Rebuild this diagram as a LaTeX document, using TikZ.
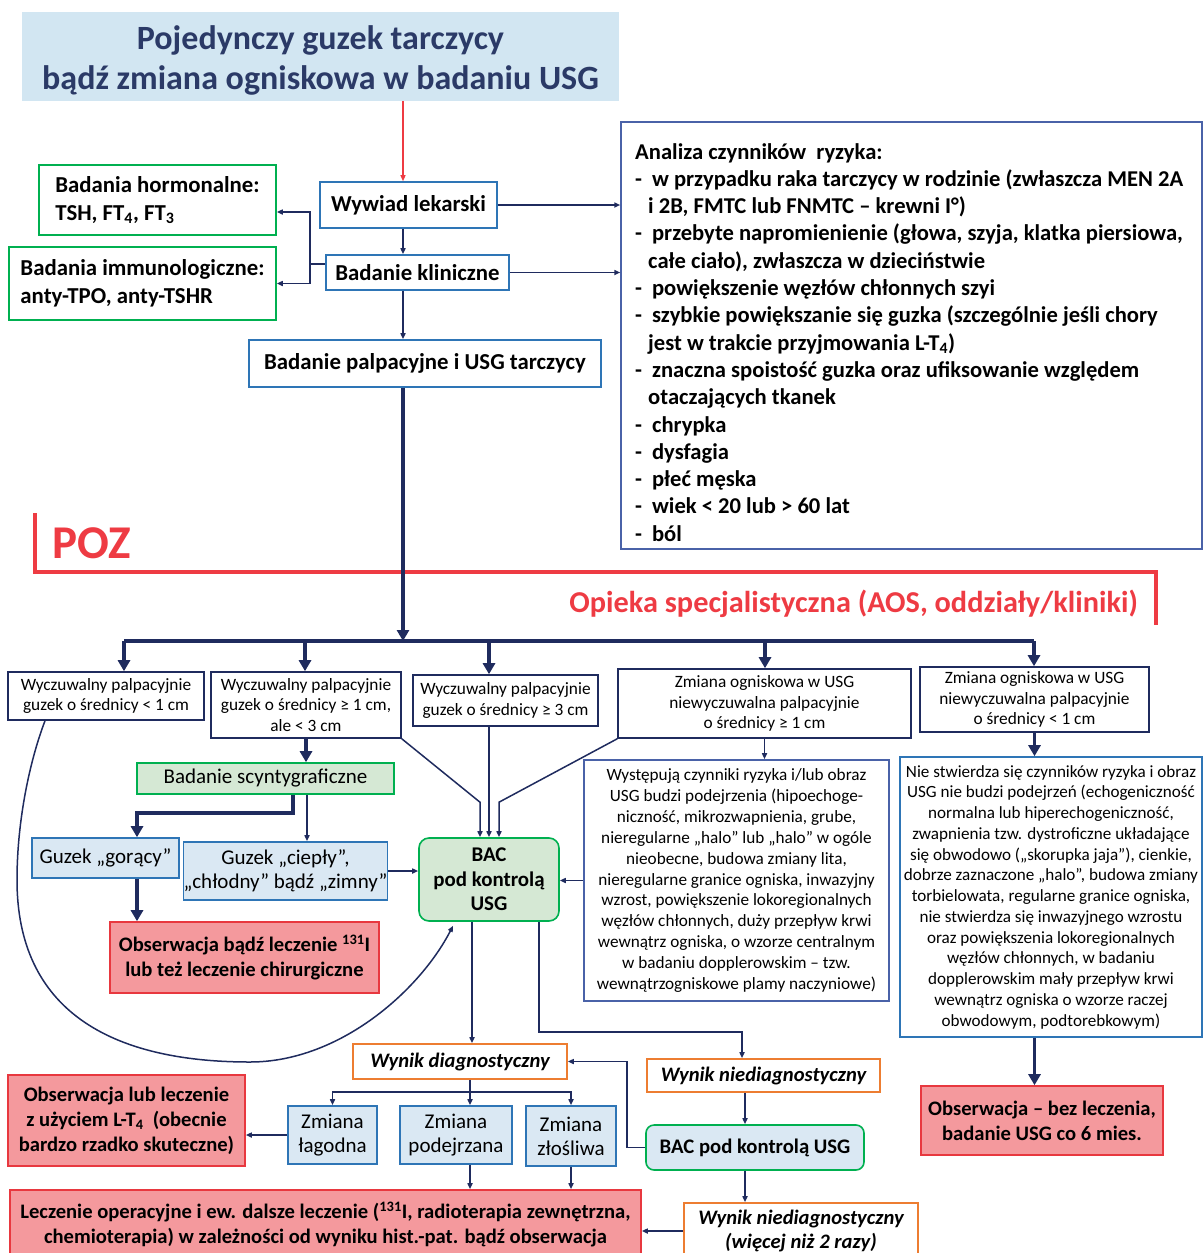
\documentclass[tikz,border=0pt]{standalone}
\usepackage{fontspec}
\setmainfont{Carlito}
\usetikzlibrary{arrows.meta}

\definecolor{navy}{HTML}{1F2B5E}
\definecolor{titlefill}{HTML}{D2E6F2}
\definecolor{titletext}{HTML}{2B3A67}
\definecolor{bluebd}{HTML}{2E75B6}
\definecolor{riskbd}{HTML}{4A62A8}
\definecolor{greenbd}{HTML}{00B050}
\definecolor{greenfill}{HTML}{D5E8D4}
\definecolor{bluefill}{HTML}{DAE8F3}
\definecolor{pinkfill}{HTML}{F4999D}
\definecolor{redbd}{HTML}{E8383F}
\definecolor{orangebd}{HTML}{ED7D31}
\definecolor{pozred}{HTML}{EE3B43}

\newcommand\fftitle{\fontsize{34}{40}\selectfont\bfseries}
\newcommand\ffbold{\fontsize{22.8}{28}\selectfont\bfseries}
\newcommand\ffrisk{\fontsize{22.6}{27.3}\selectfont\bfseries}
\newcommand\ffrow{\fontsize{17.3}{20.5}\selectfont}
\newcommand\ffmid{\fontsize{21}{24}\selectfont}
\newcommand\ffmidb{\fontsize{20.6}{25}\selectfont\bfseries}
\newcommand\ffsmall{\fontsize{17.2}{20.85}\selectfont}
\newcommand\ffital{\fontsize{20.6}{24}\selectfont\bfseries\itshape}
\newcommand\ffpoz{\fontsize{47}{50}\selectfont\bfseries}
\newcommand\ffaos{\fontsize{30.3}{34}\selectfont\bfseries}

\tikzset{
  sz/.style 2 args={minimum width=#1pt, minimum height=#2pt},
  box/.style={line width=1.6pt, inner sep=0pt, align=center},
  wbox/.style={box, draw=bluebd, fill=white},
  nbox/.style={box, draw=navy, fill=white},
  gbox/.style={box, draw=greenbd, fill=white},
  gfill/.style={box, draw=greenbd, fill=greenfill},
  lbox/.style={box, draw=bluebd, fill=bluefill},
  pbox/.style={box, draw=redbd, fill=pinkfill},
  obox/.style={box, draw=orangebd, fill=white},
  ln/.style={navy, line width=1.5pt},
  arr/.style={ln, -{Triangle[length=6pt,width=5pt]}},
  tarr/.style={navy, line width=3.5pt, -{Triangle[length=11pt,width=12pt]}},
  redarr/.style={pozred, line width=1.2pt, -{Triangle[length=6pt,width=5pt]}},
  pozline/.style={pozred, line width=4pt}
}

\begin{document}
\begin{tikzpicture}[x=1pt, y=-1pt]
\useasboundingbox (0,0) rectangle (1203,1253);

% naglowek i wywiad
\node[fill=titlefill, sz={597}{89}, text=titletext, font=\fftitle, align=center] (title) at (320.5,56.5) {\rule{0pt}{31pt}Pojedynczy guzek tarczycy\\bądź zmiana ogniskowa w badaniu USG};

\coordinate (trunk) at (403,0);
\node[wbox, sz={177}{46}, font=\ffbold] (wyw) at (408.5,205) {Wywiad lekarski};
\node[wbox, sz={183}{35}, font=\ffbold] (klin) at (417.5,272.5) {Badanie kliniczne};
\node[gbox, sz={237}{70}, font=\ffbold, align=left] (horm) at (157.5,200) {Badania hormonalne:\\TSH, FT\textsubscript{4}, FT\textsubscript{3}};
\node[gbox, sz={267}{73}, font=\ffbold, align=left] (immu) at (142.5,283.5) {Badania immunologiczne:\\anty-TPO, anty-TSHR};
\node[wbox, sz={352}{47}, font=\ffbold] (palp) at (425,363.5) {Badanie palpacyjne i USG tarczycy};

\draw[redarr] (title.south -| trunk) -- (wyw.north -| trunk);
\draw[arr] (wyw.south -| trunk) -- (klin.north -| trunk);
\draw[arr] (klin.south -| trunk) -- (palp.north -| trunk);

\coordinate (hub) at (310,264);
\draw[ln] (hub) -- (hub -| klin.west);
\draw[arr] (hub) |- ([yshift=-12pt]horm.east);
\draw[arr] (hub) |- (immu.east);

% czynniki ryzyka
\node[draw=riskbd, line width=1.5pt, sz={581}{427}] (risk) at (911.5,335.5) {};
\node[anchor=north west, inner sep=0pt, align=left, font=\ffrisk] (risktxt) at (635,143) {Analiza czynników\ \ ryzyka:\\
-\hspace{10pt}w przypadku raka tarczycy w rodzinie (zwłaszcza MEN 2A\\
\hspace*{13pt}i 2B, FMTC lub FNMTC – krewni I°)\\
-\hspace{10pt}przebyte napromienienie (głowa, szyja, klatka piersiowa,\\
\hspace*{13pt}całe ciało), zwłaszcza w dzieciństwie\\
-\hspace{10pt}powiększenie węzłów chłonnych szyi\\
-\hspace{10pt}szybkie powiększanie się guzka (szczególnie jeśli chory\\
\hspace*{13pt}jest w trakcie przyjmowania L-T\textsubscript{4})\\
-\hspace{10pt}znaczna spoistość guzka oraz ufiksowanie względem\\
\hspace*{13pt}otaczających tkanek\\
-\hspace{10pt}chrypka\\
-\hspace{10pt}dysfagia\\
-\hspace{10pt}płeć męska\\
-\hspace{10pt}wiek < 20 lub > 60 lat\\
-\hspace{10pt}ból};

\draw[arr] (wyw.east) -- (wyw.east -| risk.west);
\draw[arr] (klin.east) -- (klin.east -| risk.west);

% POZ / opieka specjalistyczna
\draw[pozline] (35,513) -- (35,572) -- (1156,572) -- (1156,625);
\node[text=pozred, font=\ffpoz, anchor=west, inner sep=0pt] (poz) at (52,543) {POZ};
\node[text=pozred, font=\ffaos, anchor=east, inner sep=0pt] (aos) at (1138,604) {Opieka specjalistyczna (AOS, oddziały/kliniki)};

% rodzaje zmian
\node[nbox, sz={196}{48}, font=\ffrow] (s1) at (106,696) {Wyczuwalny palpacyjnie\\guzek o średnicy < 1 cm};
\node[nbox, sz={190}{66}, font=\ffrow] (s2) at (306,705) {Wyczuwalny palpacyjnie\\guzek o średnicy ≥ 1 cm,\\ale < 3 cm};
\node[nbox, sz={185}{51}, font=\ffrow] (s3) at (505.5,700.5) {Wyczuwalny palpacyjnie\\guzek o średnicy ≥ 3 cm};
\node[nbox, sz={293}{69}, font=\ffrow] (s4) at (764.5,703.5) {Zmiana ogniskowa w USG\\niewyczuwalna palpacyjnie\\o średnicy ≥ 1 cm};
\node[nbox, sz={229}{65}, font=\ffrow] (s5) at (1034.5,699.5) {Zmiana ogniskowa w USG\\niewyczuwalna palpacyjnie\\o średnicy < 1 cm};

\coordinate (d1) at (124,641);
\coordinate (d2) at (305,641);
\coordinate (d3) at (489,641);
\coordinate (d4) at (765,641);
\coordinate (d5) at (1034,641);
\draw[navy, line width=4pt] (d1) -- (d5);
\foreach \i in {1,...,5}
  \draw[tarr] (d\i) -- (d\i |- s\i.north);
\draw[tarr] (palp.south -| trunk) -- (d1 -| trunk);

% scyntygrafia i BAC
\node[gfill, sz={257}{31}, font=\ffmid] (scyn) at (265.5,778.5) {Badanie scyntygraficzne};
\node[lbox, sz={147}{40}, font=\ffmid] (gor) at (105.5,858) {Guzek „gorący”};
\node[lbox, sz={203}{58}, font=\ffmid] (cie) at (285.5,871) {Guzek „ciepły”,\\„chłodny” bądź „zimny”};
\node[gfill, sz={140}{83}, rounded corners=10pt, font=\fontsize{20.9}{24.5}\selectfont\bfseries] (bac) at (489,879.5) {BAC\\pod kontrolą\\USG};
\node[pbox, sz={269}{71}, font=\ffmidb] (obs1) at (244.5,957.5) {Obserwacja bądź leczenie \textsuperscript{131}I\\lub też leczenie chirurgiczne};

\node[nbox, draw=riskbd, sz={305}{241}, font=\ffsmall] (wys) at (736.5,880.5) {Występują czynniki ryzyka i/lub obraz\\USG budzi podejrzenia (hipoechoge-\\niczność, mikrozwapnienia, grube,\\nieregularne „halo” lub „halo” w ogóle\\nieobecne, budowa zmiany lita,\\nieregularne granice ogniska, inwazyjny\\wzrost, powiększenie lokoregionalnych\\węzłów chłonnych, duży przepływ krwi\\wewnątrz ogniska, o wzorze centralnym\\w badaniu dopplerowskim – tzw.\\wewnątrzogniskowe plamy naczyniowe)};
\node[wbox, sz={302}{280}, font=\fontsize{17.1}{20.75}\selectfont] (nie) at (1051,897) {Nie stwierdza się czynników ryzyka i obraz\\USG nie budzi podejrzeń (echogeniczność\\normalna lub hiperechogeniczność,\\zwapnienia tzw. dystroficzne układające\\się obwodowo („skorupka jaja”), cienkie,\\dobrze zaznaczone „halo”, budowa zmiany\\torbielowata, regularne granice ogniska,\\nie stwierdza się inwazyjnego wzrostu\\oraz powiększenia lokoregionalnych\\węzłów chłonnych, w badaniu\\dopplerowskim mały przepływ krwi\\wewnątrz ogniska o wzorze raczej\\obwodowym, podtorebkowym)};
\node[pbox, sz={242}{69}, font=\ffmidb] (obs2) at (1042,1120.5) {Obserwacja – bez leczenia,\\badanie USG co 6 mies.};

\draw[tarr] (s2.south) -- (s2.south |- scyn.north);
\draw[tarr] ([xshift=27.5pt]scyn.south) -- ++(0,18) -| ([xshift=31.5pt]gor.north);
\draw[arr] ([xshift=41.5pt]scyn.south) -- ([xshift=41.5pt]scyn.south |- cie.north);
\draw[tarr] ([xshift=31.5pt]gor.south) -- ([xshift=31.5pt]gor.south |- obs1.north);
\draw[arr] (cie.east) -- (cie.east -| bac.west);
\draw[arr] (wys.west) -- (wys.west -| bac.east);
\draw[arr] (s2.south east) -- ([xshift=-9pt,yshift=35pt]bac.north) -- ([xshift=-9pt]bac.north);
\draw[arr] (s3.south -| bac.north) -- (bac.north);
\draw[arr] (s4.south west) -- ([xshift=10pt,yshift=35pt]bac.north) -- ([xshift=10pt]bac.north);
\draw[arr] (s4.south) -- (s4.south |- wys.north);
\draw[tarr] (s5.south) -- (s5.south |- nie.north);
\draw[tarr] (s5.south |- nie.south) -- (s5.south |- obs2.north);

% luk od guzka < 1 cm do BAC
\draw[arr] ([xshift=-61pt]s1.south) .. controls (30,760) and (17,820) .. (17,880)
  .. controls (17,1010) and (110,1062) .. (250,1062)
  .. controls (340,1062) and (420,990) .. ([xshift=-36pt,yshift=-4pt]bac.south);

% wyniki BAC
\node[obox, sz={214}{35}, font=\ffital] (wd) at (460,1061.5) {Wynik diagnostyczny};
\node[obox, sz={233}{33}, font=\ffital] (wn) at (763.5,1075.5) {Wynik niediagnostyczny};
\node[lbox, draw=greenbd, sz={218}{45}, rounded corners=8pt, font=\fontsize{20.7}{24}\selectfont\bfseries] (bac2) at (755,1147.5) {BAC pod kontrolą USG};
\node[obox, sz={234}{56}, font=\ffital] (wn2) at (801,1231) {Wynik niediagnostyczny\\(więcej niż 2 razy)};
\node[lbox, sz={89}{58}, font=\ffmid] (zl) at (332.5,1135) {Zmiana\\łagodna};
\node[lbox, sz={112}{58}, font=\ffmid] (zp) at (456,1135) {Zmiana\\podejrzana};
\node[lbox, sz={90}{60}, font=\ffmid] (zz) at (571,1136) {Zmiana\\złośliwa};
\node[pbox, sz={237}{91}, font=\ffmidb] (obs3) at (126.5,1120.5) {Obserwacja lub leczenie\\z użyciem L-T\textsubscript{4}\ \ (obecnie\\bardzo rzadko skuteczne)};
\node[pbox, sz={631}{69}, font=\ffmidb] (lecz) at (325.5,1224.5) {Leczenie operacyjne i ew. dalsze leczenie (\textsuperscript{131}I, radioterapia zewnętrzna,\\chemioterapia) w zależności od wyniku hist.-pat. bądź obserwacja};

\draw[arr] ([xshift=-17pt]bac.south) -- ([xshift=-17pt]bac.south |- wd.north);
\draw[arr] ([xshift=50pt]bac.south) -- ++(0,110) -| ([xshift=-21.5pt]wn.north);
\coordinate (col) at (745,0);
\draw[arr] (wn.south -| col) -- (bac2.north -| col);
\draw[arr] (bac2.south -| col) -- (wn2.north -| col);
\draw[arr] (bac2.west) -- ++(-18,0) |- (wd.east);
\draw[arr] (wn2.west) -- (wn2.west -| lecz.east);

\coordinate (split) at (470,1092);
\draw[ln] (wd.south -| split) -- (split);
\draw[arr] (split) -| (zl.north);
\draw[arr] (split) -- (split |- zp.north);
\draw[arr] (split) -| (zz.north);
\draw[arr] (zl.west) -- (zl.west -| obs3.east);
\draw[arr] (zp.south -| split) -- (split |- lecz.north);
\draw[arr] (zz.south) -- (zz.south |- lecz.north);

\end{tikzpicture}
\end{document}
